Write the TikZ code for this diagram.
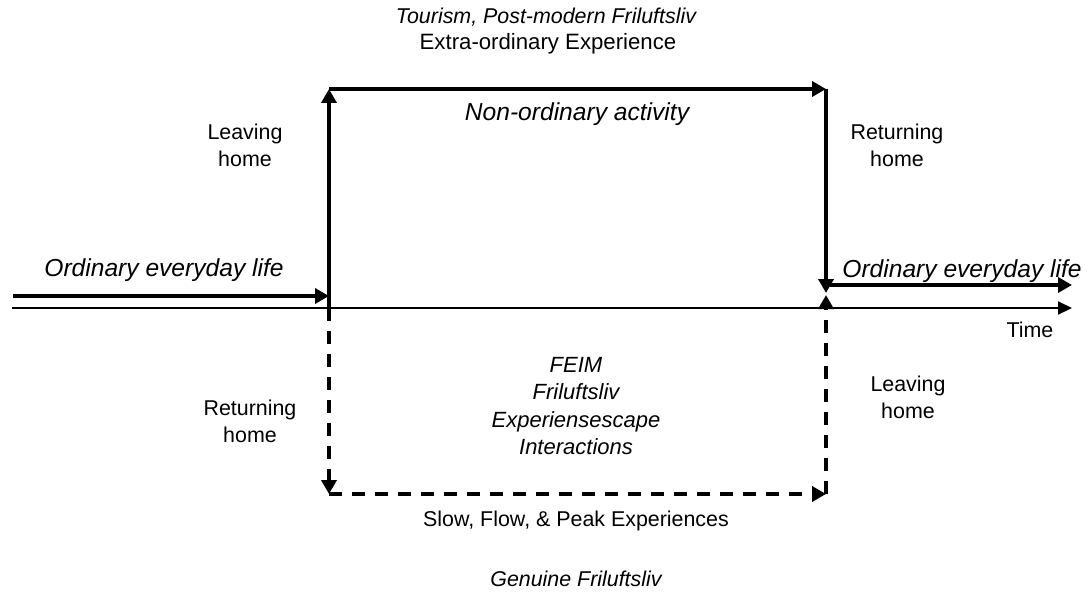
\documentclass[tikz,border=0pt]{standalone}
\usepackage{fontspec}
\setmainfont{Liberation Sans}
\usepackage{tikz}
\usetikzlibrary{arrows.meta, positioning}

\begin{document}
\begin{tikzpicture}[
    x=0.5pt, y=-0.5pt,
    font=\fontsize{10.7}{13.5}\selectfont,
    % styles
    label_text/.style={align=center, inner sep=0pt},
    italic_text/.style={align=center, inner sep=0pt, font=\fontsize{10.7}{13.5}\selectfont\itshape},
    everyday_text/.style={inner sep=0pt, font=\fontsize{12.3}{14}\selectfont\itshape},
    feim_block/.style={align=center, inner sep=0pt, font=\fontsize{11}{13.6}\selectfont\itshape},
    activity_flow/.style={
        -{Triangle[length=7pt, width=7.5pt]}, line width=2pt
    },
    genuine_flow/.style={
        -{Triangle[length=7pt, width=7.5pt]}, line width=2pt, dash pattern=on 6.5pt off 5pt
    },
    time_axis/.style={
        -{Triangle[length=7pt, width=6.5pt]}, line width=1pt
    }
]
    \useasboundingbox (0,0) rectangle (1091,599);

    % --- corner points of the two paths ---
    \coordinate (left_start) at (13,296);
    \coordinate (left_stop) at (329,296);
    \coordinate (left_base) at (329,308);
    \coordinate (left_top) at (329,89);
    \coordinate (right_top) at (826,89);
    \coordinate (right_stop) at (826,293);
    \coordinate (right_start) at (826,285);
    \coordinate (right_end) at (1072,285);
    \coordinate (time_start) at (12,308);
    \coordinate (time_end) at (1072,308);
    \coordinate (left_bottom) at (329,494);
    \coordinate (right_bottom) at (826,494);
    \coordinate (right_back) at (826,295);

    % --- texts ---
    \node[italic_text] (tourism_text) at (546,17) {Tourism, Post-modern Friluftsliv};
    \node[label_text, font=\fontsize{11.1}{13.5}\selectfont] (extra_text) at (548,44) {Extra-ordinary Experience};
    \node[everyday_text] (nonordinary_text) at (577,114) {Non-ordinary activity};
    \node[label_text] (leaving_top) at (245,145) {Leaving\\home};
    \node[label_text] (returning_top) at (897,145) {Returning\\home};
    \node[everyday_text] (ordinary_left) at (164,270) {Ordinary everyday life};
    \node[everyday_text] (ordinary_right) at (962,271) {Ordinary everyday life};
    \node[label_text] (time_text) at (1030,330) {Time};
    \node[label_text] (returning_bottom) at (250,421) {Returning\\home};
    \node[feim_block] (feim_text) at (576,406) {FEIM\\Friluftsliv\\Experiensescape\\Interactions};
    \node[label_text] (leaving_bottom) at (908,397) {Leaving\\home};
    \node[label_text] (slow_text) at (576,521) {Slow, Flow, \& Peak Experiences};
    \node[italic_text] (genuine_text) at (576,579) {Genuine Friluftsliv};

    % --- time axis ---
    \draw[time_axis] (time_start) -- (time_end);

    % --- non-ordinary activity (upper path) ---
    \draw[activity_flow] (left_start) -- (left_stop);
    \draw[activity_flow] (left_base) -- (left_top);
    \draw[activity_flow] (left_top) -- (right_top);
    \draw[activity_flow] (right_top) -- (right_stop);
    \draw[activity_flow] (right_start) -- (right_end);

    % --- genuine friluftsliv (lower path) ---
    \draw[genuine_flow] (left_base) -- (left_bottom);
    \draw[genuine_flow] (left_bottom) -- (right_bottom);
    \draw[genuine_flow] (right_bottom) -- (right_back);

\end{tikzpicture}
\end{document}
